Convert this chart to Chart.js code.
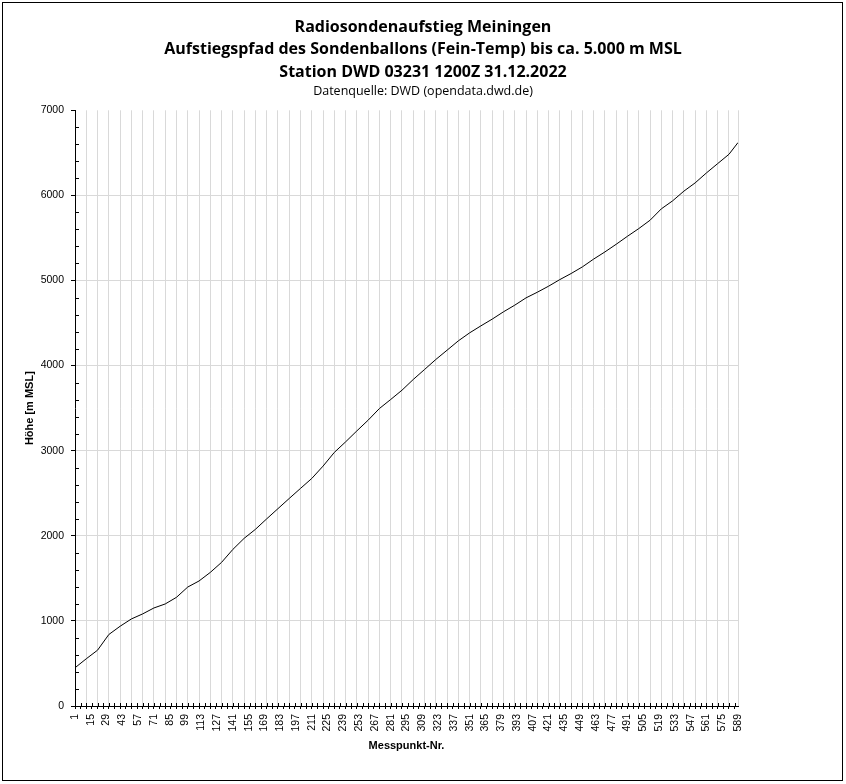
<!DOCTYPE html>
<html lang="de">
<head>
<meta charset="utf-8">
<title>Radiosondenaufstieg Meiningen</title>
<script src="https://cdn.jsdelivr.net/npm/chart.js@4.4.1/dist/chart.umd.min.js"></script>
<style>
  html, body { margin: 0; padding: 0; background: #fff; }
  #wrap { position: relative; width: 846px; height: 784px; }
  #frame { position: absolute; left: 2px; top: 2px; width: 839px; height: 777px; border: 1px solid #000; pointer-events: none; }
</style>
</head>
<body>
<div id="wrap">
  <canvas id="myChart" width="846" height="784"></canvas>
  <div id="frame"></div>
</div>
<script>
// Messpunkt-Nr. and Höhe [m MSL]
const messpunkt = [1, 11, 21, 31, 41, 51, 61, 71, 81, 91, 101, 111, 121, 131, 141, 151, 161, 171, 181, 191,
  201, 211, 221, 231, 241, 251, 261, 271, 281, 291, 301, 311, 321, 331, 341, 351, 361, 371, 381, 391,
  401, 411, 421, 431, 441, 451, 461, 471, 481, 491, 501, 511, 521, 531, 541, 551, 561, 571, 581, 589];
const hoehe = [449, 555, 656, 840, 937, 1023, 1082, 1152, 1199, 1277, 1398, 1469, 1570, 1688, 1840, 1970, 2076, 2199, 2319, 2439,
  2557, 2674, 2819, 2980, 3104, 3233, 3359, 3496, 3602, 3711, 3837, 3954, 4072, 4181, 4291, 4385, 4467, 4546, 4632, 4710,
  4796, 4862, 4933, 5011, 5082, 5160, 5252, 5336, 5426, 5520, 5610, 5708, 5842, 5936, 6050, 6147, 6264, 6374, 6483, 6621];

const titleLines = [
  'Radiosondenaufstieg Meiningen',
  'Aufstiegspfad des Sondenballons (Fein-Temp) bis ca. 5.000 m MSL',
  'Station DWD 03231 1200Z 31.12.2022'
];
const subTitle = 'Datenquelle: DWD (opendata.dwd.de)';

// axis setup (Excel style: labels every 14, ticks every 5, gridlines every 10)
const firstPoint = 1;
const lastPoint = 589;
const labelStep = 14;
const tickStep = 5;
const gridStep = 10;

const xTickValues = [];
for (let v = firstPoint; v <= lastPoint; v++) {
  const k = v - firstPoint;
  if (k % labelStep === 0 || k % tickStep === 0 || v === lastPoint) xTickValues.push(v);
}

const points = messpunkt.map((m, i) => ({ x: m, y: hoehe[i] }));

// inner half of the axis tick marks (minor y ticks, crossing x ticks)
const innerTicks = {
  id: 'innerTicks',
  afterDraw(chart) {
    const { ctx } = chart;
    const x = chart.scales.x, y = chart.scales.y;
    ctx.save();
    ctx.strokeStyle = '#000';
    ctx.lineWidth = 1;
    ctx.beginPath();
    y.ticks.forEach(t => {
      if (t.value % 1000 !== 0) {
        const py = Math.round(y.getPixelForValue(t.value)) + 0.5;
        ctx.moveTo(x.left, py);
        ctx.lineTo(x.left + 4, py);
      }
    });
    x.ticks.forEach(t => {
      if ((t.value - firstPoint) % tickStep === 0) {
        const px = Math.round(x.getPixelForValue(t.value)) + 0.5;
        ctx.moveTo(px, y.bottom);
        ctx.lineTo(px, y.bottom - 3);
      }
    });
    ctx.stroke();
    ctx.restore();
  }
};

new Chart('myChart', {
  type: 'line',
  data: {
    datasets: [{
      label: 'Höhe',
      data: points,
      borderColor: '#000',
      borderWidth: 1,
      pointRadius: 0,
      tension: 0,
      fill: false
    }]
  },
  options: {
    responsive: false,
    animation: false,
    layout: { padding: 0 },
    plugins: {
      legend: { display: false },
      tooltip: { enabled: false },
      title: {
        display: true,
        text: titleLines,
        color: '#000',
        font: { family: 'Open Sans', size: 16, weight: 'bold', lineHeight: '22.5px' },
        padding: { top: 16, bottom: 0 }
      },
      subtitle: {
        display: true,
        text: subTitle,
        color: '#000',
        font: { family: 'Open Sans', size: 12.5, weight: 'normal', lineHeight: '15.6px' },
        padding: { top: 0, bottom: 11.2 }
      }
    },
    scales: {
      x: {
        type: 'linear',
        min: firstPoint,
        max: lastPoint,
        afterBuildTicks(scale) {
          scale.ticks = xTickValues.map(v => ({ value: v }));
        },
        afterFit(scale) { scale.height = 78; },
        border: { color: '#000', width: 1 },
        grid: {
          color: ctx => {
            const v = ctx.tick ? ctx.tick.value : 0;
            if (v === firstPoint) return 'rgba(0,0,0,0)';
            return ((v - firstPoint) % gridStep === 0 || v === lastPoint) ? '#d9d9d9' : 'rgba(0,0,0,0)';
          },
          tickColor: ctx => {
            const v = ctx.tick ? ctx.tick.value : 0;
            return (v - firstPoint) % tickStep === 0 ? '#000' : 'rgba(0,0,0,0)';
          },
          tickLength: 3
        },
        ticks: {
          autoSkip: false,
          minRotation: 90,
          maxRotation: 90,
          padding: 5,
          color: '#000',
          font: { family: 'Liberation Sans', size: 10.5 },
          callback: v => ((v - firstPoint) % labelStep === 0 ? String(v) : '')
        },
        title: {
          display: true,
          text: 'Messpunkt-Nr.',
          color: '#000',
          font: { family: 'Liberation Sans', size: 11, weight: 'bold', lineHeight: 1.2 },
          padding: { top: 31.4, bottom: 31.4 }
        }
      },
      y: {
        min: 0,
        max: 7000,
        afterFit(scale) { scale.width = 75; },
        border: { color: '#000', width: 1 },
        grid: {
          color: ctx => {
            const v = ctx.tick ? ctx.tick.value : 0;
            return (v % 1000 === 0 && v !== 0 && v !== 7000) ? '#d9d9d9' : 'rgba(0,0,0,0)';
          },
          tickColor: ctx => {
            const v = ctx.tick ? ctx.tick.value : 0;
            return v % 1000 === 0 ? '#000' : 'rgba(0,0,0,0)';
          },
          tickLength: 4
        },
        ticks: {
          stepSize: 200,
          autoSkip: false,
          padding: 7,
          color: '#000',
          font: { family: 'Liberation Sans', size: 10.5 },
          callback: v => (v % 1000 === 0 ? String(v) : '')
        },
        title: {
          display: true,
          text: 'Höhe [m MSL]',
          color: '#000',
          font: { family: 'Liberation Sans', size: 11, weight: 'bold', lineHeight: 1.2 },
          padding: { top: 23.4, bottom: 0 }
        }
      },
      yRight: {
        position: 'right',
        afterFit(scale) { scale.width = 108; },
        border: { display: false },
        grid: { display: false, drawOnChartArea: false },
        ticks: { display: false }
      }
    }
  },
  plugins: [innerTicks]
});
</script>
</body>
</html>
